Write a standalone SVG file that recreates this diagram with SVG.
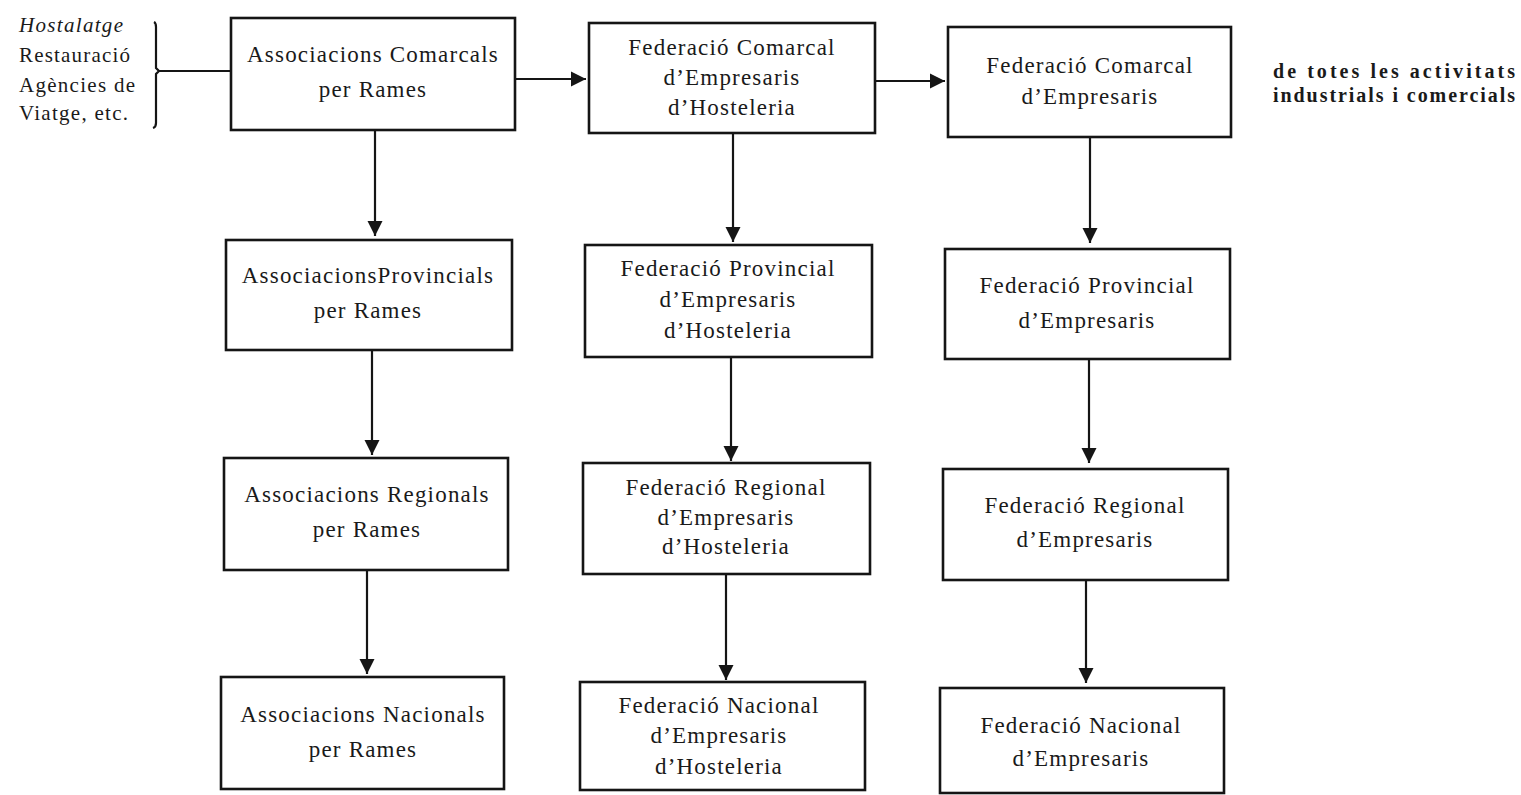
<svg xmlns="http://www.w3.org/2000/svg" width="1521" height="795" viewBox="0 0 1521 795">
<defs>
<style>
.box{fill:none;stroke:#151515;stroke-width:2.6}
.t{font-family:"Liberation Serif","Times New Roman",serif;font-size:23px;letter-spacing:1.2px;fill:#1a1a1a;text-anchor:middle}
.lbl{font-family:"Liberation Serif","Times New Roman",serif;font-size:21px;fill:#1a1a1a}
.note{font-family:"Liberation Serif","Times New Roman",serif;font-size:20px;font-weight:bold;fill:#1a1a1a}
.ln{fill:none;stroke:#151515;stroke-width:2.2}
</style>
<marker id="ah" markerUnits="userSpaceOnUse" markerWidth="16" markerHeight="16" refX="15" refY="8" orient="auto" viewBox="0 0 16 16"><path d="M0,0.5 L15,8 L0,15.5 z" fill="#151515"/></marker>
</defs>
<rect width="1521" height="795" fill="#ffffff"/>

<g id="labels-left">
<text class="lbl" x="19" y="32" font-style="italic" textLength="104" lengthAdjust="spacing">Hostalatge</text>
<text class="lbl" x="19" y="62" textLength="111" lengthAdjust="spacing">Restauració</text>
<text class="lbl" x="19" y="92" textLength="116" lengthAdjust="spacing">Agències de</text>
<text class="lbl" x="19" y="120" textLength="109" lengthAdjust="spacing">Viatge, etc.</text>
</g>

<g id="note-right">
<text class="note" x="1273" y="78" textLength="242" lengthAdjust="spacing">de totes les activitats</text>
<text class="note" x="1273" y="102" textLength="242" lengthAdjust="spacing">industrials i comercials</text>
</g>

<g id="connectors">
<path class="ln" d="M154,22 Q156,23 156,27 L156,68 L159,71 L156,74 L156,123 Q156,127 153,128"/>
<line class="ln" x1="159" y1="71" x2="231" y2="71"/>
<line class="ln" x1="516" y1="79" x2="586" y2="79" marker-end="url(#ah)"/>
<line class="ln" x1="876" y1="81" x2="945" y2="81" marker-end="url(#ah)"/>
<line class="ln" x1="375" y1="131" x2="375" y2="236" marker-end="url(#ah)"/>
<line class="ln" x1="372" y1="351" x2="372" y2="455" marker-end="url(#ah)"/>
<line class="ln" x1="367" y1="571" x2="367" y2="674" marker-end="url(#ah)"/>
<line class="ln" x1="733" y1="134" x2="733" y2="242" marker-end="url(#ah)"/>
<line class="ln" x1="731" y1="358" x2="731" y2="461" marker-end="url(#ah)"/>
<line class="ln" stroke-width="1.4" x1="726" y1="575" x2="726" y2="680" marker-end="url(#ah)"/>
<line class="ln" x1="1090" y1="138" x2="1090" y2="243" marker-end="url(#ah)"/>
<line class="ln" x1="1089" y1="360" x2="1089" y2="463" marker-end="url(#ah)"/>
<line class="ln" x1="1086" y1="581" x2="1086" y2="683" marker-end="url(#ah)"/>
</g>

<g id="A1"><rect class="box" x="231" y="18" width="284" height="112"/>
<text class="t" x="373" y="62">Associacions Comarcals</text>
<text class="t" x="373" y="97">per Rames</text></g>

<g id="A2"><rect class="box" x="226" y="240" width="286" height="110"/>
<text class="t" x="368" y="283">AssociacionsProvincials</text>
<text class="t" x="368" y="318">per Rames</text></g>

<g id="A3"><rect class="box" x="224" y="458" width="284" height="112"/>
<text class="t" x="367" y="502">Associacions Regionals</text>
<text class="t" x="367" y="537">per Rames</text></g>

<g id="A4"><rect class="box" x="221" y="677" width="283" height="112"/>
<text class="t" x="363" y="722">Associacions Nacionals</text>
<text class="t" x="363" y="757">per Rames</text></g>

<g id="B1"><rect class="box" x="589" y="23" width="286" height="110"/>
<text class="t" x="732" y="55">Federació Comarcal</text>
<text class="t" x="732" y="85">d’Empresaris</text>
<text class="t" x="732" y="115">d’Hosteleria</text></g>

<g id="B2"><rect class="box" x="585" y="245" width="287" height="112"/>
<text class="t" x="728" y="276">Federació Provincial</text>
<text class="t" x="728" y="307">d’Empresaris</text>
<text class="t" x="728" y="338">d’Hosteleria</text></g>

<g id="B3"><rect class="box" x="583" y="463" width="287" height="111"/>
<text class="t" x="726" y="495">Federació Regional</text>
<text class="t" x="726" y="525">d’Empresaris</text>
<text class="t" x="726" y="554">d’Hosteleria</text></g>

<g id="B4"><rect class="box" x="580" y="682" width="285" height="108"/>
<text class="t" x="719" y="713">Federació Nacional</text>
<text class="t" x="719" y="743">d’Empresaris</text>
<text class="t" x="719" y="774">d’Hosteleria</text></g>

<g id="C1"><rect class="box" x="948" y="27" width="283" height="110"/>
<text class="t" x="1090" y="73">Federació Comarcal</text>
<text class="t" x="1090" y="104">d’Empresaris</text></g>

<g id="C2"><rect class="box" x="945" y="249" width="285" height="110"/>
<text class="t" x="1087" y="293">Federació Provincial</text>
<text class="t" x="1087" y="328">d’Empresaris</text></g>

<g id="C3"><rect class="box" x="943" y="469" width="285" height="111"/>
<text class="t" x="1085" y="513">Federació Regional</text>
<text class="t" x="1085" y="547">d’Empresaris</text></g>

<g id="C4"><rect class="box" x="940" y="688" width="284" height="105"/>
<text class="t" x="1081" y="733">Federació Nacional</text>
<text class="t" x="1081" y="766">d’Empresaris</text></g>
</svg>
